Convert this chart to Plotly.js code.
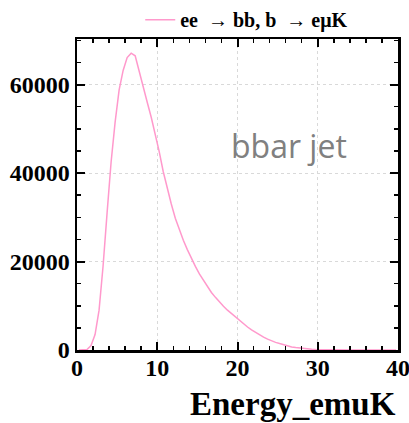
<!DOCTYPE html>
<html>
<head>
<meta charset="utf-8">
<script src="https://cdn.plot.ly/plotly-3.0.1.min.js"></script>
<style>html,body{margin:0;padding:0;background:#fff;}#chart{width:409px;height:423px;}</style>
</head>
<body>
<div id="chart"></div>
<script>
// Bin centres (Energy_emuK) and bin contents
var binCenters = [0.25,0.75,1.25,1.75,2.25,2.75,3.25,3.75,4.25,4.75,5.25,5.75,6.25,6.75,7.25,7.75,8.25,8.75,9.25,9.75,
  10.25,10.75,11.25,11.75,12.25,12.75,13.25,13.75,14.25,14.75,15.25,15.75,16.25,16.75,17.25,17.75,18.25,18.75,19.25,19.75,
  20.25,20.75,21.25,21.75,22.25,22.75,23.25,23.75,24.25,24.75,25.25,25.75,26.25,26.75,27.25,27.75,28.25,28.75,29.25,29.75,
  30.25,30.75,31.25,31.75,32.25,32.75,33.25,33.75,34.25,34.75,35.25,35.75,36.25,36.75,37.25,37.75,38.25,38.75,39.25,39.75];
var counts = [0,0,100,1000,3500,9000,19000,31000,42500,51500,58800,63200,66100,67100,66500,63000,59200,56000,52600,49000,
  44800,40300,36400,33000,29800,27100,24800,22700,20700,18900,17200,15700,14300,13000,11900,10800,9900,9000,8200,7400,
  6600,5900,5200,4550,3950,3400,2900,2450,2050,1720,1450,1150,900,700,540,420,320,240,180,130,
  100,75,55,40,30,22,16,12,9,7,5,4,3,2,2,1,1,1,0,0];
var seriesName = "ee  \u2192 bb, b  \u2192 e\u03bcK";
var xTitle = "Energy_emuK";
var noteText = "bbar jet";

var serif = "Liberation Serif, Times New Roman, serif";

var trace = {
  x: binCenters, y: counts, type: "scatter", mode: "lines",
  name: seriesName,
  line: {color: "#ff99cc", width: 1.5},
  showlegend: true
};

var axisCommon = {
  showline: true, linecolor: "#000", linewidth: 2.5, mirror: "ticks",
  ticks: "inside", ticklen: 8, tickwidth: 2, tickcolor: "#000",
  showgrid: true, gridcolor: "#d9d9d9", gridwidth: 1, griddash: "dot",
  zeroline: false, ticklabeloverflow: "allow", automargin: false,
  tickfont: {family: serif, size: 24, color: "#000", weight: "bold"}
};

var layout = {
  width: 409, height: 423,
  margin: {l: 77, r: 11, t: 39, b: 73, autoexpand: false},
  paper_bgcolor: "#fff", plot_bgcolor: "#fff",
  xaxis: Object.assign({}, axisCommon, {
    range: [0, 40], dtick: 10, tick0: 0, ticklabelstandoff: -5,
    minor: {dtick: 2, ticks: "inside", ticklen: 4, tickwidth: 1.5, tickcolor: "#000", showgrid: false}
  }),
  yaxis: Object.assign({}, axisCommon, {
    range: [0, 70300], dtick: 20000, tick0: 0, tickformat: "d",
    minor: {dtick: 5000, ticks: "inside", ticklen: 4, tickwidth: 1.5, tickcolor: "#000", showgrid: false}
  }),
  showlegend: true,
  legend: {
    orientation: "h", x: 0.197, xanchor: "left", y: 1.125, yanchor: "top",
    bgcolor: "rgba(0,0,0,0)", itemwidth: 30,
    font: {family: serif, size: 20, color: "#000", weight: "bold"}
  },
  annotations: [
    {text: xTitle, xref: "paper", yref: "paper", x: 1.0, y: -0.175, xanchor: "right", yanchor: "middle",
     showarrow: false, font: {family: serif, size: 33, color: "#000", weight: "bold"}},
    {text: noteText, xref: "x", yref: "y", x: 26.4, y: 46250, xanchor: "center", yanchor: "middle",
     showarrow: false, font: {family: "Open Sans, sans-serif", size: 32, color: "#808080"}}
  ]
};

Plotly.newPlot("chart", [trace], layout, {displayModeBar: false, staticPlot: true});
</script>
</body>
</html>
